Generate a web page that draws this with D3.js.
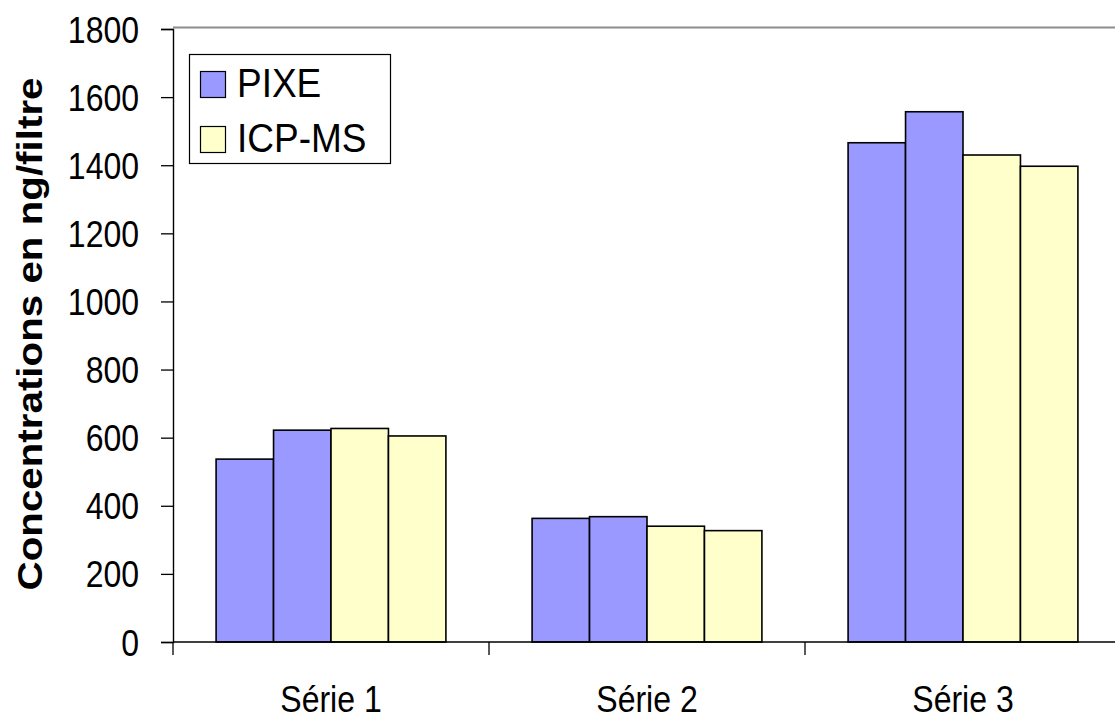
<!DOCTYPE html>
<html>
<head>
<meta charset="utf-8">
<script src="https://cdn.jsdelivr.net/npm/d3@7"></script>
<style>
  html, body { margin: 0; padding: 0; background: #fff; }
  svg { display: block; }
  text { font-family: "Liberation Sans", Arial, sans-serif; fill: #000; }
</style>
</head>
<body>
<svg id="chart" width="1115" height="718"></svg>
<script>
// Concentrations (ng/filtre) per sample series, two measurements per method
const categories = ["Série 1", "Série 2", "Série 3"];
const methods = ["PIXE", "ICP-MS"];
const barMethods = ["PIXE", "PIXE", "ICP-MS", "ICP-MS"];
const pixeA = [537, 363, 1466];
const pixeB = [622, 368, 1557];
const icpA = [627, 340, 1430];
const icpB = [605, 327, 1397];
const yTicks = [0, 200, 400, 600, 800, 1000, 1200, 1400, 1600, 1800];
const yTitle = "Concentrations en ng/filtre";

const barSeries = [pixeA, pixeB, icpA, icpB];
const colors = { "PIXE": "#9999ff", "ICP-MS": "#ffffcc" };

const svg = d3.select("#chart");
const plotLeft = 173, plotRight = 1121, plotTop = 29, plotBottom = 642;
const stretch = 1.16;   // glyphs are drawn slightly taller than wide

const x = d3.scaleBand().domain(categories).range([plotLeft, plotRight]).padding(0);
const xInner = d3.scaleBand().domain(d3.range(barSeries.length))
  .range([0, x.bandwidth()]).paddingInner(0).paddingOuter(0.75);
const y = d3.scaleLinear().domain([0, 1800]).range([plotBottom, plotTop]);

// plot area top border
svg.append("line")
  .attr("x1", plotLeft).attr("x2", 1115).attr("y1", plotTop - 1.5).attr("y2", plotTop - 1.5)
  .attr("stroke", "#8c8c8c").attr("stroke-width", 2);

// bars
const rows = categories.map((c, i) => barSeries.map((s, k) => ({ cat: c, k, v: s[i], m: barMethods[k] })));
svg.append("g").selectAll("g").data(rows).join("g")
  .attr("transform", d => `translate(${x(d[0].cat)},0)`)
  .selectAll("rect").data(d => d).join("rect")
  .attr("x", d => xInner(d.k))
  .attr("y", d => y(d.v))
  .attr("width", xInner.bandwidth())
  .attr("height", d => y(0) - y(d.v))
  .attr("fill", d => colors[d.m])
  .attr("stroke", "#000").attr("stroke-width", 1.6);

// y axis
const yAxis = d3.axisLeft(y).tickValues(yTicks).tickSize(12).tickFormat("");
const yg = svg.append("g").attr("transform", `translate(${plotLeft},0)`).call(yAxis);
yg.select(".domain").attr("stroke", "#000").attr("stroke-width", 1.4);
yg.selectAll(".tick line").attr("stroke", "#000").attr("stroke-width", 1.3);

svg.append("g").selectAll("text").data(yTicks).join("text")
  .attr("transform", d => `translate(139,${y(d) + 13.5}) scale(1,${stretch})`)
  .attr("text-anchor", "end")
  .attr("font-size", 32)
  .text(d => d);

// x axis
const xTickPos = [plotLeft, ...categories.map(c => x(c) + x.bandwidth())];
svg.append("line")
  .attr("x1", plotLeft).attr("x2", 1115).attr("y1", plotBottom).attr("y2", plotBottom)
  .attr("stroke", "#000").attr("stroke-width", 1.4);
svg.append("g").selectAll("line").data(xTickPos).join("line")
  .attr("x1", d => d).attr("x2", d => d)
  .attr("y1", plotBottom).attr("y2", plotBottom + 13)
  .attr("stroke", "#000").attr("stroke-width", 1.3);

svg.append("g").selectAll("text").data(categories).join("text")
  .attr("transform", d => `translate(${x(d) + x.bandwidth() / 2},712) scale(1,${stretch})`)
  .attr("text-anchor", "middle")
  .attr("font-size", 32)
  .text(d => d);

// y axis title
svg.append("text")
  .attr("transform", `translate(42,334) scale(1,1.12) rotate(-90)`)
  .attr("text-anchor", "middle")
  .attr("font-size", 36)
  .attr("font-weight", "bold")
  .text(yTitle);

// legend
const lg = svg.append("g");
lg.append("rect")
  .attr("x", 189.5).attr("y", 54.5).attr("width", 201).attr("height", 109)
  .attr("fill", "#fff").attr("stroke", "#000").attr("stroke-width", 1.2);
const item = lg.selectAll("g.item").data(methods).join("g")
  .attr("class", "item")
  .attr("transform", (d, i) => `translate(0,${i * 55})`);
item.append("rect")
  .attr("x", 200.5).attr("y", 71.5).attr("width", 25).attr("height", 26)
  .attr("fill", d => colors[d]).attr("stroke", "#000").attr("stroke-width", 1.2);
item.append("text")
  .attr("transform", `translate(237,97) scale(1,1.08)`)
  .attr("font-size", 37)
  .text(d => d);
</script>
</body>
</html>
